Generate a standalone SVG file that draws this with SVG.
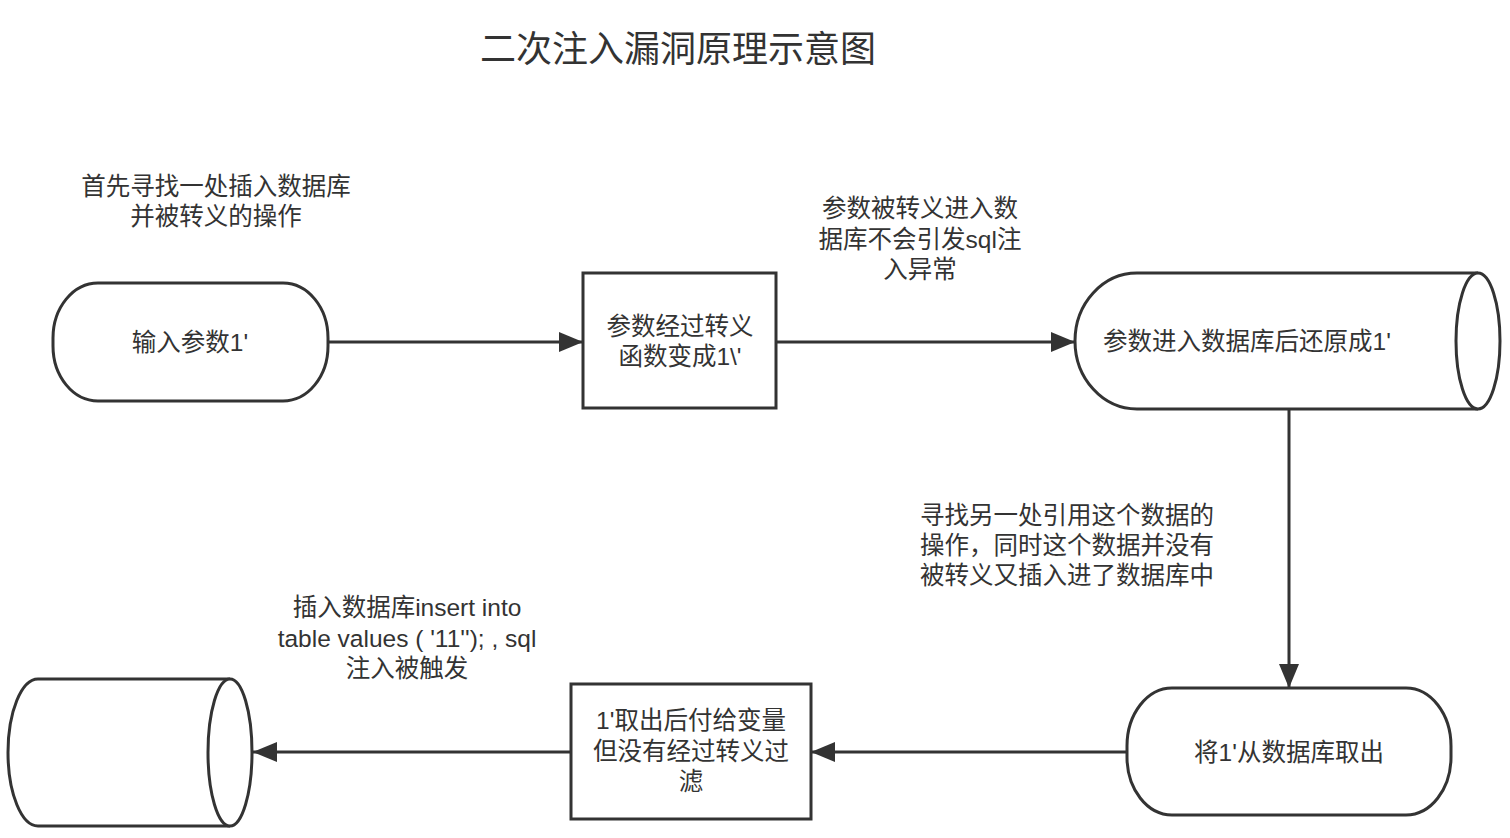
<svg xmlns="http://www.w3.org/2000/svg" width="1510" height="838" viewBox="0 0 1510 838">
<style>
.shape{fill:#fff;stroke:#333;stroke-width:3}
.edge{fill:none;stroke:#333;stroke-width:3;marker-end:url(#arr)}
text{font-family:"Liberation Sans","Noto Sans CJK SC",sans-serif;fill:#333;font-size:24.5px;text-anchor:middle}
.title{font-size:36px}
</style>
<defs>
<marker id="arr" markerUnits="userSpaceOnUse" viewBox="0 0 24 20" refX="24" refY="10" markerWidth="24" markerHeight="20" orient="auto">
<path d="M0,0 L24,10 L0,20 z" fill="#333"/>
</marker>
</defs>
<rect width="1510" height="838" fill="#fff"/>
<text class="title" x="678" y="62">二次注入漏洞原理示意图</text>
<g id="connectors">
<path class="edge" d="M328,342 L583,342"/>
<path class="edge" d="M776,342 L1075,342"/>
<path class="edge" d="M1289,409 L1289,688"/>
<path class="edge" d="M1127,752 L811,752"/>
<path class="edge" d="M571,752 L253,752"/>
</g>
<g id="label1">
<text x="216" y="195"><tspan x="216">首先寻找一处插入数据库</tspan><tspan x="216" dy="30">并被转义的操作</tspan></text>
</g>
<g id="label2">
<text x="920" y="217"><tspan x="920">参数被转义进入数</tspan><tspan x="920" dy="30.5">据库不会引发sql注</tspan><tspan x="920" dy="30.5">入异常</tspan></text>
</g>
<g id="label3">
<text x="1067" y="524"><tspan x="1067">寻找另一处引用这个数据的</tspan><tspan x="1067" dy="30">操作，同时这个数据并没有</tspan><tspan x="1067" dy="30">被转义又插入进了数据库中</tspan></text>
</g>
<g id="label4">
<text x="407" y="616"><tspan x="407">插入数据库insert into</tspan><tspan x="407" dy="30.5">table values ( '11''); , sql</tspan><tspan x="407" dy="30.5">注入被触发</tspan></text>
</g>
<g id="node-input">
<rect class="shape" x="53" y="283" width="275" height="118" rx="45" ry="55"/>
<text x="190" y="351">输入参数1'</text>
</g>
<g id="node-escape">
<rect class="shape" x="583" y="273" width="193" height="135"/>
<text x="680" y="335"><tspan x="680">参数经过转义</tspan><tspan x="680" dy="30">函数变成1\'</tspan></text>
</g>
<g id="node-db1">
<path class="shape" d="M1478,273 L1137,273 A62,68 0 0 0 1137,409 L1478,409"/>
<ellipse class="shape" cx="1478" cy="341" rx="22" ry="68"/>
<text x="1247" y="350">参数进入数据库后还原成1'</text>
</g>
<g id="node-fetch">
<rect class="shape" x="1127" y="688" width="324" height="127" rx="45" ry="58"/>
<text x="1289" y="761">将1'从数据库取出</text>
</g>
<g id="node-assign">
<rect class="shape" x="571" y="684" width="240" height="135"/>
<text x="691" y="729"><tspan x="691">1'取出后付给变量</tspan><tspan x="691" dy="30.5">但没有经过转义过</tspan><tspan x="691" dy="30.5">滤</tspan></text>
</g>
<g id="node-db2">
<path class="shape" d="M230,679 L38,679 A30,73.5 0 0 0 38,826 L230,826"/>
<ellipse class="shape" cx="230" cy="752.5" rx="22" ry="73.5"/>
</g>
</svg>
